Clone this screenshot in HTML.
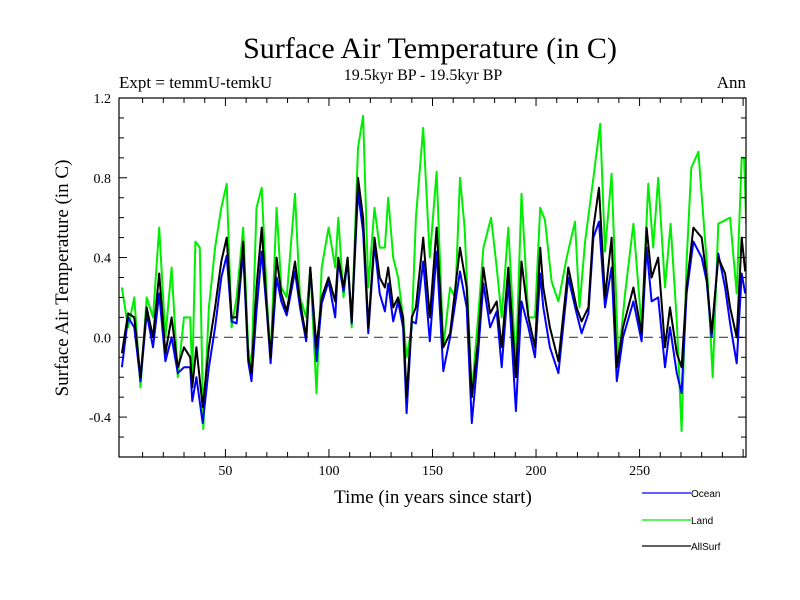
<!DOCTYPE html>
<html><head><meta charset="utf-8"><style>
body{margin:0;background:#fff}
svg{display:block}
</style></head><body>
<svg id="chart" width="800" height="600" xmlns="http://www.w3.org/2000/svg">
<rect width="800" height="600" fill="#fff"/>
<text x="430" y="58" font-family="Liberation Serif, serif" font-size="30" text-anchor="middle">Surface Air Temperature (in C)</text>
<text x="423" y="80" font-family="Liberation Serif, serif" font-size="16" text-anchor="middle">19.5kyr BP - 19.5kyr BP</text>
<text x="119" y="88" font-family="Liberation Serif, serif" font-size="17">Expt = temmU-temkU</text>
<text x="746" y="88" font-family="Liberation Serif, serif" font-size="17" text-anchor="end">Ann</text>
<text transform="translate(68,278) rotate(-90)" font-family="Liberation Serif, serif" font-size="19" text-anchor="middle">Surface Air Temperature (in C)</text>
<text x="433" y="503" font-family="Liberation Serif, serif" font-size="19" text-anchor="middle">Time (in years since start)</text>
<defs><clipPath id="plotclip"><rect x="119" y="98" width="627" height="359"/></clipPath></defs>
<g id="grid"></g>
<g id="series" clip-path="url(#plotclip)"></g>
<g id="axes"></g>
<g>
<line x1="642" y1="493" x2="691" y2="493" stroke="#0000ff" stroke-width="1.2"/>
<text x="691" y="497" font-family="Liberation Sans, sans-serif" font-size="10">Ocean</text>
<line x1="642" y1="520" x2="691" y2="520" stroke="#00ee00" stroke-width="1.2"/>
<text x="691" y="524" font-family="Liberation Sans, sans-serif" font-size="10">Land</text>
<line x1="642" y1="546" x2="691" y2="546" stroke="#000" stroke-width="1.2"/>
<text x="691" y="550" font-family="Liberation Sans, sans-serif" font-size="10">AllSurf</text>
</g>
</svg>
<script>
const yearsOcean=[0,3,6,9,12,15,18,21,24,27,30,33,34,36,39,42,45,48,50.6,53,55.4,58.6,61,62.6,65,67.5,70,71.8,74.7,77,79.6,83.6,86,89,91,94,96.5,99.8,103,104.5,107,109,111,114,116.5,119,122,124.5,127,128.6,131,133.4,135.8,137.5,140,142,145.5,148.7,152,155.2,158.5,163.3,166.5,169,172,174.6,177.8,181,183.4,186.6,190.3,193,196.3,199.5,202,203.5,206.7,210.8,215.6,219.6,222,225.3,227.7,230.4,233.3,236.5,239,242,247,251,253.4,255.8,259,262.3,264.7,268,270.3,272.7,276,280,282.4,284.8,288,291.3,293.7,296.9,299.3,301];
const ocean=[-0.15,0.10,0.05,-0.22,0.12,-0.05,0.22,-0.12,0.0,-0.18,-0.15,-0.15,-0.32,-0.2,-0.43,-0.15,0.05,0.3,0.41,0.08,0.07,0.43,-0.12,-0.22,0.13,0.43,0.13,-0.13,0.3,0.18,0.11,0.33,0.15,-0.02,0.35,-0.12,0.17,0.28,0.1,0.38,0.23,0.38,0.07,0.73,0.53,0.02,0.47,0.22,0.13,0.27,0.08,0.18,0.05,-0.38,0.08,0.07,0.38,-0.02,0.43,-0.17,0.0,0.33,0.15,-0.43,-0.08,0.27,0.05,0.13,-0.15,0.28,-0.37,0.18,0.05,-0.1,0.32,0.15,-0.05,-0.18,0.3,0.12,0.02,0.12,0.5,0.58,0.15,0.35,-0.22,0.0,0.18,-0.02,0.45,0.18,0.2,-0.15,0.05,-0.18,-0.28,0.22,0.48,0.4,0.28,0.0,0.42,0.25,0.07,-0.13,0.32,0.22];
const allsurf=[-0.08,0.12,0.1,-0.2,0.15,0.0,0.32,-0.08,0.1,-0.15,-0.05,-0.1,-0.25,-0.05,-0.35,-0.05,0.15,0.38,0.5,0.1,0.1,0.48,-0.1,-0.18,0.25,0.55,0.15,-0.1,0.4,0.22,0.13,0.38,0.18,0.0,0.35,-0.05,0.2,0.3,0.18,0.4,0.25,0.4,0.08,0.8,0.6,0.05,0.5,0.3,0.25,0.35,0.15,0.2,0.1,-0.3,0.1,0.15,0.5,0.1,0.55,-0.05,0.02,0.45,0.25,-0.3,-0.02,0.35,0.12,0.18,-0.05,0.35,-0.2,0.38,0.1,-0.05,0.45,0.25,0.05,-0.12,0.35,0.15,0.08,0.15,0.55,0.75,0.2,0.5,-0.15,0.05,0.25,0.02,0.55,0.3,0.4,-0.05,0.15,-0.08,-0.15,0.25,0.55,0.5,0.3,0.02,0.4,0.32,0.15,0.0,0.5,0.33];
const yearsLand=[0,3,6,9,12,15,18,21,24,27,30,33,34,35.5,37.6,39.3,42,45,48,50.6,53,55.4,58.6,61,62.6,65,67.5,70,71.8,74.7,77,79.6,83.6,86,89,91,94,96.5,99.8,103,104.5,107,109,111,114,116.5,119,122,124.5,127,128.6,131,133.4,135.8,137.5,140,142,145.5,148.7,152,155.2,158.5,161,163.3,165.5,169,172,174.6,178.3,181,183.4,186.6,190.3,193,196.3,199.5,202,204.3,207.5,210.8,214.8,218.8,221,223.7,227.7,231,233.3,236.5,239.8,243,247,251,254.2,256.6,259,262.3,265,268,270.3,272.7,275,278.4,282.4,285.3,288,293.7,296.9,299.3,300.5,301.5];
const land=[0.25,0.05,0.2,-0.25,0.2,0.1,0.55,0.0,0.35,-0.2,0.1,0.1,-0.2,0.48,0.45,-0.46,0.15,0.45,0.65,0.77,0.05,0.2,0.55,-0.05,-0.15,0.65,0.75,0.2,-0.1,0.65,0.25,0.2,0.72,0.2,0.1,0.35,-0.28,0.35,0.55,0.35,0.6,0.2,0.4,0.05,0.95,1.11,0.25,0.65,0.45,0.45,0.7,0.4,0.3,0.1,-0.1,0.05,0.6,1.05,0.4,0.83,-0.05,0.25,0.2,0.8,0.55,-0.28,0.1,0.45,0.6,0.35,0.1,0.55,-0.15,0.72,0.1,0.1,0.65,0.59,0.28,0.18,0.4,0.58,0.15,0.48,0.8,1.07,0.43,0.82,-0.12,0.22,0.57,0.05,0.77,0.45,0.8,0.25,0.57,0.08,-0.47,0.38,0.85,0.93,0.38,-0.2,0.57,0.6,0.22,0.9,0.9,0.57];
const xTickLabels=[50,100,150,200,250];
const yTickLabels=[-0.4,0.0,0.4,0.8,1.2];

const NS='http://www.w3.org/2000/svg';
const L=119,R=746,T=98,B=457;
const X0=-1.4,X1=301.4,Y0=-0.6,Y1=1.2;
function xs(v){return L+(v-X0)/(X1-X0)*(R-L);}
function ys(v){return B-(v-Y0)/(Y1-Y0)*(B-T);}
function mk(tag,attrs,parent){const e=document.createElementNS(NS,tag);for(const k in attrs)e.setAttribute(k,attrs[k]);parent.appendChild(e);return e;}
const grid=document.getElementById('grid');
const zl=mk('line',{x1:L,x2:R,y1:ys(0),y2:ys(0),stroke:'#444','stroke-width':1.2,'stroke-dasharray':'9,6'},grid);


const series=document.getElementById('series');
function drawLine(xsArr,vals,color,name){
  const d=xsArr.map((x,i)=>(i?'L':'M')+xs(x).toFixed(1)+','+ys(vals[i]).toFixed(1)).join('');
  const p=mk('path',{d:d,fill:'none',stroke:color,'stroke-width':2,'stroke-linejoin':'round'},series);
  
  
}
drawLine(yearsLand,land,'#00ee00','land-series');
drawLine(yearsOcean,ocean,'#0000ff','ocean-series');
drawLine(yearsOcean,allsurf,'#000000','allsurf-series');
const axes=document.getElementById('axes');
const frame=mk('rect',{x:L,y:T,width:R-L,height:B-T,fill:'none',stroke:'#000','stroke-width':1.2},axes);


for(let v=10;v<=300;v+=10){
  const len=(v%50===0)?8:5;
  const x=xs(v);
  mk('line',{x1:x,x2:x,y1:B,y2:B-len,stroke:'#000','stroke-width':1},axes);
  mk('line',{x1:x,x2:x,y1:T,y2:T+len,stroke:'#000','stroke-width':1},axes);
}
for(let k=-5;k<=11;k++){
  const v=k/10;const y=ys(v);
  const len=(k%4===0)?8:5;
  mk('line',{x1:L,x2:L+len,y1:y,y2:y,stroke:'#000','stroke-width':1},axes);
  mk('line',{x1:R,x2:R-len,y1:y,y2:y,stroke:'#000','stroke-width':1},axes);
}
xTickLabels.forEach(v=>{
  const t=mk('text',{x:xs(v),y:B+18,'font-family':'Liberation Serif, serif','font-size':14,'text-anchor':'middle'},axes);
  t.textContent=v;
  
  
});
yTickLabels.forEach(v=>{
  const t=mk('text',{x:L-8,y:ys(v)+5,'font-family':'Liberation Serif, serif','font-size':14,'text-anchor':'end'},axes);
  t.textContent=v.toFixed(1);
  
  
});
</script>
</body></html>
